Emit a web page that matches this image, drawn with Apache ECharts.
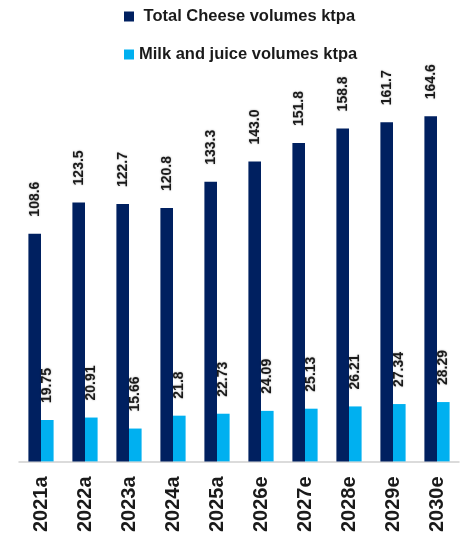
<!DOCTYPE html>
<html>
<head>
<meta charset="utf-8">
<script src="https://cdn.jsdelivr.net/npm/echarts@6/dist/echarts.min.js"></script>
<style>
  html, body { margin: 0; padding: 0; background: #ffffff; }
  #chart { width: 461px; height: 535px; }
</style>
</head>
<body>
<div id="chart"></div>
<script>
// Yearly volumes (a = actual, e = estimate)
const years = ['2021a', '2022a', '2023a', '2024a', '2025a', '2026e', '2027e', '2028e', '2029e', '2030e'];
const cheeseVolumes = [108.6, 123.5, 122.7, 120.8, 133.3, 143.0, 151.8, 158.8, 161.7, 164.6];
const milkJuiceVolumes = [19.75, 20.91, 15.66, 21.8, 22.73, 24.09, 25.13, 26.21, 27.34, 28.29];
const seriesNames = [' Total Cheese volumes ktpa', 'Milk and juice volumes ktpa'];

const FONT = '"Liberation Sans", Arial, sans-serif';

const valueLabel = (fmt) => ({
  show: true,
  position: 'top',
  rotate: 90,
  align: 'left',
  verticalAlign: 'middle',
  distance: 17,
  fontFamily: FONT,
  fontSize: 14,
  fontWeight: 'bold',
  color: '#1a1a1a',
  textShadowColor: 'rgba(0,0,0,0.35)',
  textShadowBlur: 2,
  formatter: (p) => fmt(p.value)
});

const chart = echarts.init(document.getElementById('chart'), null, { renderer: 'canvas' });
chart.setOption({
  animation: false,
  backgroundColor: '#ffffff',
  legend: {
    orient: 'vertical',
    left: 124,
    top: 8,
    padding: 0,
    itemWidth: 10,
    itemHeight: 10,
    itemGap: 21,
    icon: 'rect',
    textStyle: { fontFamily: FONT, fontSize: 16.5, fontWeight: 'bold', color: '#1a1a1a' },
    data: seriesNames
  },
  grid: { left: 19, right: 2, top: 42, bottom: 71, containLabel: false },
  xAxis: {
    type: 'category',
    data: years,
    axisLine: { lineStyle: { color: '#d0d0d0', width: 1.5 } },
    axisTick: { show: false },
    axisLabel: {
      rotate: 90,
      margin: 15,
      fontFamily: FONT,
      fontSize: 20,
      fontWeight: 'bold',
      color: '#1a1a1a'
    }
  },
  yAxis: {
    type: 'value',
    min: 0,
    max: 200,
    show: false,
    splitLine: { show: false }
  },
  series: [
    {
      name: seriesNames[0],
      type: 'bar',
      data: cheeseVolumes,
      barWidth: 12.6,
      barGap: '0%',
      itemStyle: { color: '#002060' },
      label: valueLabel((v) => v.toFixed(1))
    },
    {
      name: seriesNames[1],
      type: 'bar',
      data: milkJuiceVolumes,
      barWidth: 12.6,
      barGap: '0%',
      itemStyle: { color: '#00B0F0' },
      label: valueLabel((v) => String(v))
    }
  ]
});
</script>
</body>
</html>
